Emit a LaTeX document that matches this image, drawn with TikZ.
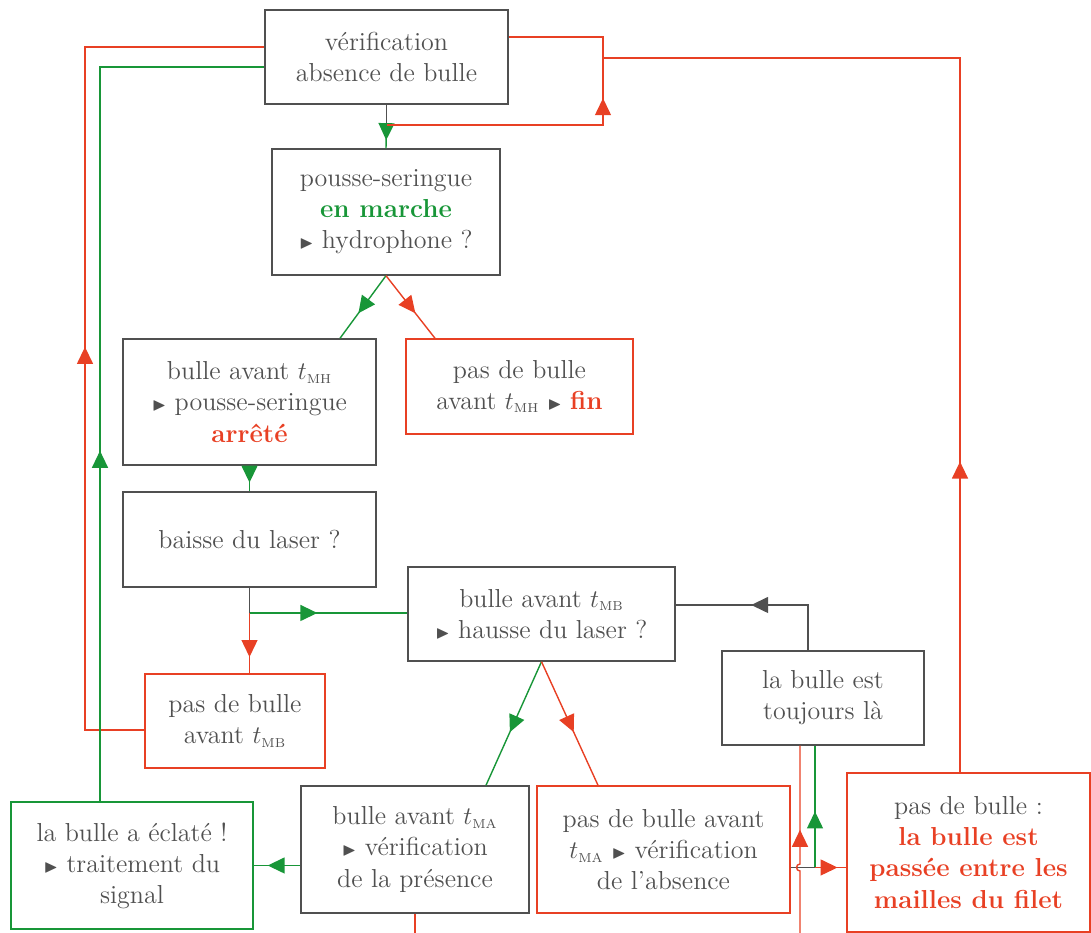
\documentclass[tikz,border=0pt]{standalone}
\usepackage{fontspec}
\usepackage{amssymb}
\usetikzlibrary{arrows.meta,decorations.markings}
\definecolor{gris}{RGB}{80,80,80}
\definecolor{rouge}{RGB}{232,64,36}
\definecolor{vert}{RGB}{24,150,56}
\newcommand{\pointe}{$\scriptstyle\blacktriangleright$}
\newcommand{\ind}[1]{$t_{\scriptscriptstyle\mathrm{#1}}$}

\begin{document}
\begin{tikzpicture}[
  font=\fontsize{14.8}{17.7}\selectfont,
  bloc/.style  ={draw=gris, line width=0.8pt, text=gris, align=center, inner sep=0pt},
  blocr/.style ={bloc, draw=rouge},
  blocv/.style ={bloc, draw=vert},
  fil/.style   ={gris, line width=0.8pt},
  filr/.style  ={rouge, line width=0.8pt},
  filv/.style  ={vert, line width=0.8pt},
  fleche/.style={postaction={decorate}, decoration={markings,
      mark=at position #1 with {\arrow{Triangle[length=3.4mm,width=3.2mm]}}}}]

  \useasboundingbox (0,0) rectangle (21.82,18.66);

  % ---------------- boxes ----------------
  \node[bloc, minimum width=4.86cm, minimum height=1.88cm] (verif) at (7.73,17.52)
    {vérification\\absence de bulle};
  \node[bloc, minimum width=4.56cm, minimum height=2.52cm] (pousse) at (7.72,14.42)
    {pousse-seringue\\\textcolor{vert}{\textbf{en marche}}\\\pointe{} hydrophone ?};
  \node[bloc, minimum width=5.06cm, minimum height=2.52cm] (bulleMH) at (4.99,10.62)
    {bulle avant \ind{MH}\\\pointe{} pousse-seringue\\\textcolor{rouge}{\textbf{arrêté}}};
  \node[blocr, minimum width=4.54cm, minimum height=1.90cm] (pasMH) at (10.39,10.93)
    {pas de bulle\\avant \ind{MH} \pointe{} \textcolor{rouge}{\textbf{fin}}};
  \node[bloc, minimum width=5.06cm, minimum height=1.90cm] (baisse) at (4.99,7.87)
    {baisse du laser ?};
  \node[blocr, minimum width=3.60cm, minimum height=1.88cm] (pasMB) at (4.70,4.24)
    {pas de bulle\\avant \ind{MB}};
  \node[bloc, minimum width=5.34cm, minimum height=1.88cm] (hausse) at (10.83,6.38)
    {bulle avant \ind{MB}\\\pointe{} hausse du laser ?};
  \node[bloc, minimum width=4.04cm, minimum height=1.88cm] (toujours) at (16.46,4.70)
    {la bulle est\\toujours là};
  \node[bloc, minimum width=4.56cm, minimum height=2.54cm] (bulleMA) at (8.30,1.67)
    {bulle avant \ind{MA}\\\pointe{} vérification\\de la présence};
  \node[blocr, minimum width=5.06cm, minimum height=2.54cm] (pasMA) at (13.27,1.67)
    {pas de bulle avant\\\ind{MA} \pointe{} vérification\\de l’absence};
  \node[blocv, minimum width=4.84cm, minimum height=2.54cm] (eclate) at (2.64,1.35)
    {la bulle a éclaté !\\\pointe{} traitement du\\signal};
  \node[blocr, minimum width=4.86cm, minimum height=3.18cm] (passee) at (19.37,1.61)
    {pas de bulle :\\\textcolor{rouge}{\textbf{la bulle est}}\\\textcolor{rouge}{\textbf{passée entre les}}\\\textcolor{rouge}{\textbf{mailles du filet}}};

  % ---------------- corners and loose ends ----------------
  \coordinate (bouclev) at (7.73,16.16);
  \coordinate (coinr)   at (12.06,17.92);
  \coordinate (retourR) at (1.70,17.72);
  \coordinate (retourV) at (2.00,17.32);
  \coordinate (retourP) at (19.20,17.50);
  \coordinate (retourT) at (16.16,6.56);
  \coordinate (partage) at (4.99,6.40);
  \coordinate (jonction) at (16.30,1.31);
  \coordinate (sautR)   at (16.00,1.31);
  \coordinate (coupeA)  at (8.30,0);
  \coordinate (coupeR)  at (16.00,0);

  % ---------------- top : check loop ----------------
  \draw[fil]  (verif.south) -- (bouclev);
  \draw[filv, fleche=0.65] (bouclev) -- (pousse.north);
  \draw[filr, fleche=0.61] (bouclev) -| (coinr) -- (coinr -| verif.east);

  % ---------------- syringe pump ----------------
  \draw[filv, fleche=0.6] (pousse.south) -- ([xshift=1.81cm]bulleMH.north);
  \draw[filr, fleche=0.6] (pousse.south) -- ([xshift=-1.69cm]pasMH.north);
  \draw[filv, fleche=0.66] (bulleMH.south) -- (baisse.north);

  % ---------------- laser going down ----------------
  \draw[fil]  (baisse.south) -- (partage);
  \draw[filv, fleche=0.43] (partage) -- (partage -| hausse.west);
  \draw[filr, fleche=0.73] (partage) -- (partage |- pasMB.north);

  % ---------------- laser going up ----------------
  \draw[filv, fleche=0.57] (hausse.south) -- ([xshift=1.42cm]bulleMA.north);
  \draw[filr, fleche=0.57] (hausse.south) -- ([xshift=-1.31cm]pasMA.north);
  \draw[fil, fleche=0.575] (retourT |- toujours.north) -- (retourT) -- (retourT -| hausse.east);
  \draw[filv, fleche=0.7] (bulleMA.west |- eclate.east) -- (eclate.east);
  \draw[filr] (bulleMA.south) -- (coupeA);

  % ---------------- bottom right ----------------
  \draw[fil]  (jonction -| pasMA.east) -- (jonction);
  \draw[filr, fleche=0.72] (jonction) -- (jonction -| passee.west);
  \draw[filv, fleche=0.46] (jonction) -- (jonction |- toujours.south);
  \draw[filr, fleche=0.56] (coupeR) -- ([yshift=-0.07cm]sautR)
    arc[start angle=-90, end angle=-270, radius=0.07cm] -- (coupeR |- toujours.south);

  % ---------------- long returns ----------------
  \draw[filr, fleche=0.48] ([yshift=-0.18cm]pasMB.west) -| (retourR) -- (retourR -| verif.west);
  \draw[filv, fleche=0.39] (retourV |- eclate.north) -- (retourV) -- (retourV -| verif.west);
  \draw[filr, fleche=0.29] (retourP |- passee.north) -- (retourP) -- (retourP -| coinr);
\end{tikzpicture}
\end{document}
